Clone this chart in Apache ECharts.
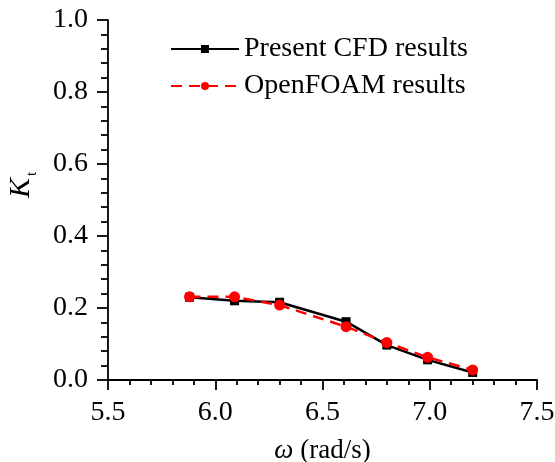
<!DOCTYPE html>
<html>
<head>
<meta charset="utf-8">
<script src="https://cdn.jsdelivr.net/npm/echarts@6/dist/echarts.min.js"></script>
<style>
html,body{margin:0;padding:0;background:#fff;}
#main{width:555px;height:462px;}
</style>
</head>
<body>
<div id="main"></div>
<script>
var omega = [5.88, 6.09, 6.30, 6.61, 6.80, 6.99, 7.20];
var cfdValues = [0.230, 0.220, 0.216, 0.162, 0.097, 0.056, 0.021];
var foamValues = [0.231, 0.231, 0.208, 0.148, 0.104, 0.063, 0.028];
var seriesNames = ['Present CFD results', 'OpenFOAM results'];
var xTicks = [5.5, 6.0, 6.5, 7.0, 7.5];
var yTicks = [0.0, 0.2, 0.4, 0.6, 0.8, 1.0];

function pairs(xs, ys) { return xs.map(function (x, i) { return [x, ys[i]]; }); }

var font = 'Liberation Serif';
var chart = echarts.init(document.getElementById('main'), null, {renderer: 'canvas'});
chart.setOption({
  animation: false,
  backgroundColor: '#fff',
  textStyle: {fontFamily: font},
  grid: {left: 108, right: 18, top: 20, bottom: 82, containLabel: false, outerBoundsMode: 'none'},
  legend: {
    orient: 'vertical',
    left: 165,
    top: 30,
    itemWidth: 68,
    itemHeight: 10,
    itemGap: 9,
    textStyle: {fontFamily: font, fontSize: 28, color: '#000'},
    data: seriesNames
  },
  xAxis: {
    type: 'value',
    min: xTicks[0], max: xTicks[xTicks.length - 1], interval: 0.5,
    name: '{w|ω} (rad/s)',
    nameLocation: 'middle',
    nameGap: 57,
    nameTextStyle: {fontFamily: font, fontSize: 27, color: '#000',
      rich: {w: {fontFamily: font, fontSize: 27, fontStyle: 'italic', color: '#000'}}},
    axisLine: {lineStyle: {color: '#000', width: 1.8}},
    axisTick: {show: true, inside: false, length: 10, lineStyle: {color: '#000', width: 1.8}},
    minorTick: {show: true, splitNumber: 5, length: 5, lineStyle: {color: '#000', width: 1.8}},
    splitLine: {show: false},
    axisLabel: {fontFamily: font, fontSize: 28, color: '#000', margin: 19,
      formatter: function (v) { return v.toFixed(1); }}
  },
  yAxis: {
    type: 'value',
    min: yTicks[0], max: yTicks[yTicks.length - 1], interval: 0.2,
    name: '{k|K}{t|t}',
    nameLocation: 'middle',
    nameGap: 72,
    nameRotate: 90,
    nameTextStyle: {fontFamily: font, color: '#000',
      rich: {
        k: {fontFamily: font, fontSize: 30, fontStyle: 'italic', color: '#000', verticalAlign: 'bottom', padding: [0, 0, 0, 30]},
        t: {fontFamily: font, fontSize: 15, color: '#000', verticalAlign: 'bottom', padding: [0, 0, -4, 2]}
      }},
    axisLine: {show: true, lineStyle: {color: '#000', width: 1.8}},
    axisTick: {show: true, inside: false, length: 11, lineStyle: {color: '#000', width: 1.8}},
    minorTick: {show: true, splitNumber: 5, length: 7, lineStyle: {color: '#000', width: 1.8}},
    splitLine: {show: false},
    axisLabel: {fontFamily: font, fontSize: 28, color: '#000', margin: 20,
      formatter: function (v) { return v.toFixed(1); }}
  },
  series: [
    {
      name: seriesNames[0],
      type: 'line',
      data: pairs(omega, cfdValues),
      symbol: 'rect',
      symbolSize: 9,
      lineStyle: {color: '#000', width: 2.5},
      itemStyle: {color: '#000'},
      z: 2
    },
    {
      name: seriesNames[1],
      type: 'line',
      data: pairs(omega, foamValues),
      symbol: 'circle',
      symbolSize: 11,
      lineStyle: {color: '#ff0000', width: 2.5, type: [11, 7]},
      itemStyle: {color: '#ff0000'},
      z: 3
    }
  ]
});
</script>
</body>
</html>
